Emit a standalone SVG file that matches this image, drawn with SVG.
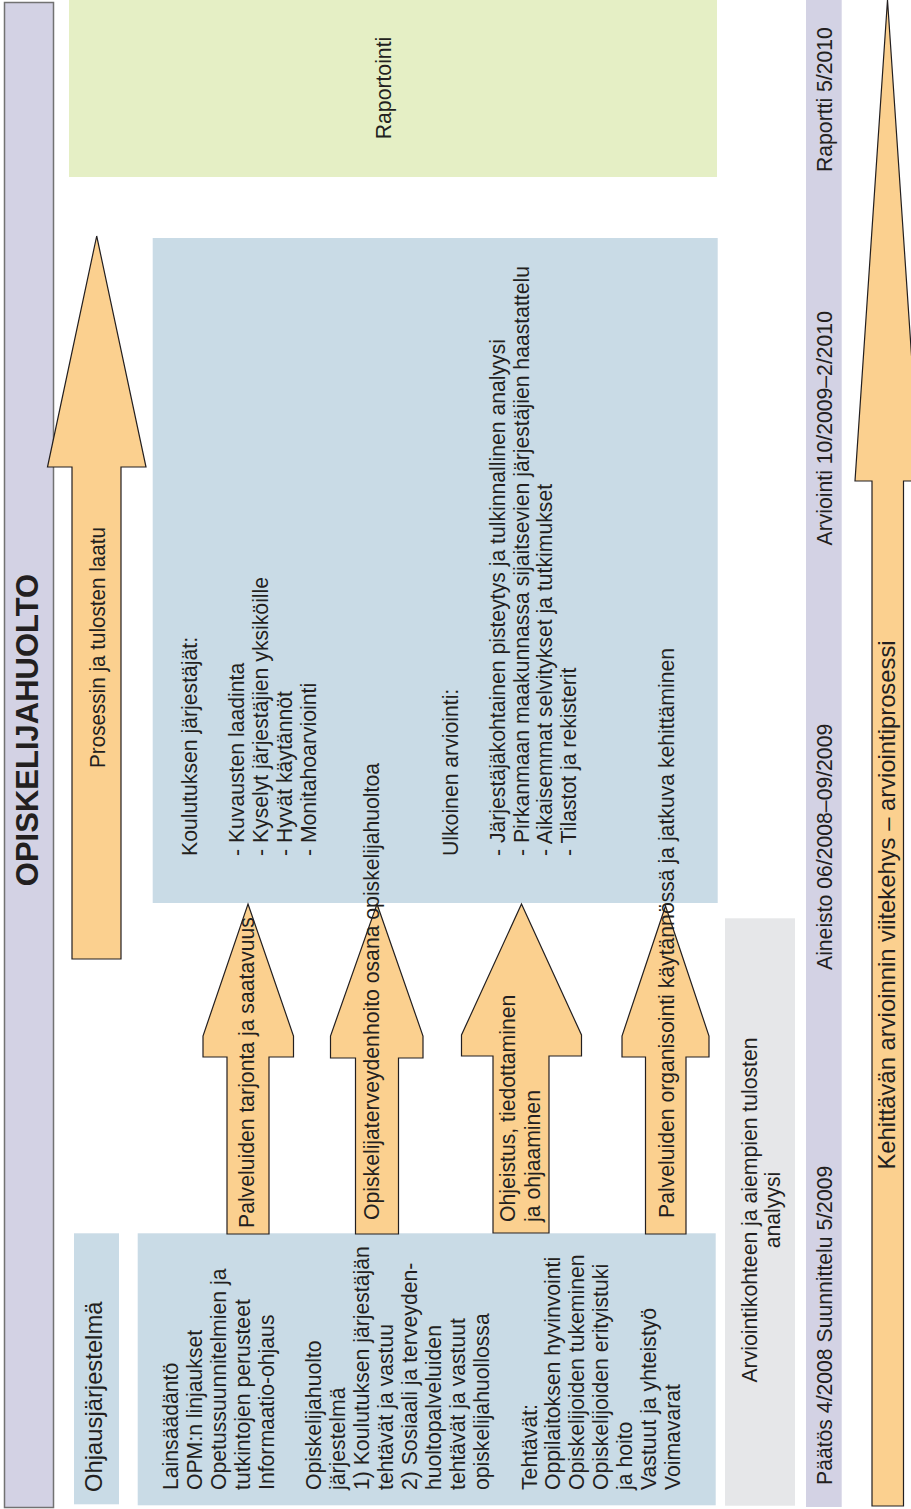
<svg xmlns="http://www.w3.org/2000/svg" width="911" height="1509" viewBox="0 0 911 1509">
<style>
  text { font-family: "Liberation Sans", Arial, Helvetica, sans-serif; fill: #231f20; font-size: 21.2px; }
  .title { font-weight: bold; font-size: 31px; }
  .big { font-size: 23.8px; }
  .lav { fill: #d3d2e4; }
  .blue { fill: #c9dbe6; }
  .arrow { fill: #fbd08f; stroke: #231f20; stroke-width: 1.2; stroke-linejoin: miter; }
</style>
<rect width="911" height="1509" fill="#ffffff"/>

<g id="title-bar">
  <rect class="lav" x="4.5" y="2.5" width="49" height="1505" stroke="#727272" stroke-width="1.5"/>
  <text class="title" transform="translate(37.7,730) rotate(-90)" text-anchor="middle">OPISKELIJAHUOLTO</text>
</g>

<g id="raportointi">
  <rect x="69" y="0" width="648" height="177" fill="#e5efc5"/>
  <text transform="translate(391,88) rotate(-90)" text-anchor="middle">Raportointi</text>
</g>

<g id="arviointi-box">
  <rect class="blue" x="152.7" y="238" width="565" height="665"/>
  <g transform="translate(0,856) rotate(-90)">
    <text x="0" y="197">Koulutuksen järjestäjät:</text>
    <text x="0" y="244.4">- Kuvausten laadinta</text>
    <text x="0" y="268.1">- Kyselyt järjestäjien yksiköille</text>
    <text x="0" y="291.8">- Hyvät käytännöt</text>
    <text x="0" y="315.5">- Monitahoarviointi</text>
    <text x="0" y="457.7">Ulkoinen arviointi:</text>
    <text x="0" y="505">- Järjestäjäkohtainen pisteytys ja tulkinnallinen analyysi</text>
    <text x="0" y="528.7">- Pirkanmaan maakunnassa sijaitsevien järjestäjien haastattelu</text>
    <text x="0" y="552.4">- Aikaisemmat selvitykset ja tutkimukset</text>
    <text x="0" y="576.1">- Tilastot ja rekisterit</text>
  </g>
</g>

<g id="ohjausjarjestelma">
  <rect class="blue" x="74" y="1233.3" width="45" height="271"/>
  <text class="big" transform="translate(102,1492) rotate(-90)">Ohjausjärjestelmä</text>
</g>

<g id="ohjaus-sisalto">
  <rect class="blue" x="137.7" y="1233.3" width="578" height="272"/>
  <g transform="translate(0,1490) rotate(-90)">
    <text x="0" y="178">Lainsäädäntö</text>
    <text x="0" y="201.9">OPM:n linjaukset</text>
    <text x="0" y="225.8">Opetussuunnitelmien ja</text>
    <text x="0" y="249.7">tutkintojen perusteet</text>
    <text x="0" y="273.6">Informaatio-ohjaus</text>
    <text x="0" y="321.4">Opiskelijahuolto</text>
    <text x="0" y="345.3">järjestelmä</text>
    <text x="0" y="369.2">1) Koulutuksen järjestäjän</text>
    <text x="0" y="393.1">tehtävät ja vastuu</text>
    <text x="0" y="417">2) Sosiaali ja terveyden-</text>
    <text x="0" y="440.9">huoltopalveluiden</text>
    <text x="0" y="464.8">tehtävät ja vastuut</text>
    <text x="0" y="488.7">opiskelijahuollossa</text>
    <text x="0" y="536.5">Tehtävät:</text>
    <text x="0" y="560.4">Oppilaitoksen hyvinvointi</text>
    <text x="0" y="584.3">Opiskelijoiden tukeminen</text>
    <text x="0" y="608.2">Opiskelijoiden erityistuki</text>
    <text x="0" y="632.1">ja hoito</text>
    <text x="0" y="656">Vastuut ja yhteistyö</text>
    <text x="0" y="679.9">Voimavarat</text>
  </g>
</g>

<g id="analyysi">
  <rect x="725" y="918.3" width="70" height="587.4" fill="#e6e7e9"/>
  <g transform="translate(0,1210) rotate(-90)" text-anchor="middle">
    <text x="0" y="757">Arviointikohteen ja aiempien tulosten</text>
    <text x="0" y="780">analyysi</text>
  </g>
</g>

<g id="aikajana">
  <rect class="lav" x="806" y="0" width="35.7" height="1507"/>
  <text transform="translate(832,1485) rotate(-90)">Päätös 4/2008 Suunnittelu 5/2009</text>
  <text transform="translate(832,970) rotate(-90)">Aineisto 06/2008–09/2009</text>
  <text transform="translate(832,545.5) rotate(-90)">Arviointi 10/2009–2/2010</text>
  <text transform="translate(832,172) rotate(-90)">Raportti 5/2010</text>
</g>

<g id="arrows">
  <g id="arrow-prosessi">
    <polygon class="arrow" points="96.7,236 146,467 121,467 121,959 72,959 72,467 47.5,467"/>
    <text transform="translate(105,647.5) rotate(-90)" text-anchor="middle" font-size="23" textLength="241" lengthAdjust="spacingAndGlyphs">Prosessin ja tulosten laatu</text>
  </g>
  <g id="arrow-tarjonta">
    <polygon class="arrow" points="248,904 293.5,1036 293.5,1057 269,1057 269,1234 227,1234 227,1057 203,1057 203,1036"/>
    <text transform="translate(253.5,1228) rotate(-90)">Palveluiden tarjonta ja saatavuus</text>
  </g>
  <g id="arrow-terveydenhoito">
    <polygon class="arrow" points="377,904 423,1036 423,1058 398.5,1058 398.5,1234 355.5,1234 355.5,1058 330.5,1058 330.5,1036"/>
    <text transform="translate(379,1220) rotate(-90)">Opiskelijaterveydenhoito osana opiskelijahuoltoa</text>
  </g>
  <g id="arrow-ohjeistus">
    <polygon class="arrow" points="521.5,904 581.5,1035 581.5,1056 549,1056 549,1233 493,1233 493,1056 461.5,1056 461.5,1035"/>
    <g transform="translate(0,1222) rotate(-90)">
      <text x="0" y="515">Ohjeistus, tiedottaminen</text>
      <text x="0" y="540">ja ohjaaminen</text>
    </g>
  </g>
  <g id="arrow-organisointi">
    <polygon class="arrow" points="665.5,906 709,1036 709,1057 686,1057 686,1234 645.5,1234 645.5,1057 622,1057 622,1036"/>
    <text transform="translate(674,1218) rotate(-90)">Palveluiden organisointi käytännössä ja jatkuva kehittäminen</text>
  </g>
  <g id="arrow-viitekehys">
    <polygon class="arrow" points="887.5,0 920,481 903.5,481 903.5,1506 872,1506 872,481 855,481"/>
    <text class="big" transform="translate(895,1169.5) rotate(-90)">Kehittävän arvioinnin viitekehys – arviointiprosessi</text>
  </g>
</g>
</svg>
